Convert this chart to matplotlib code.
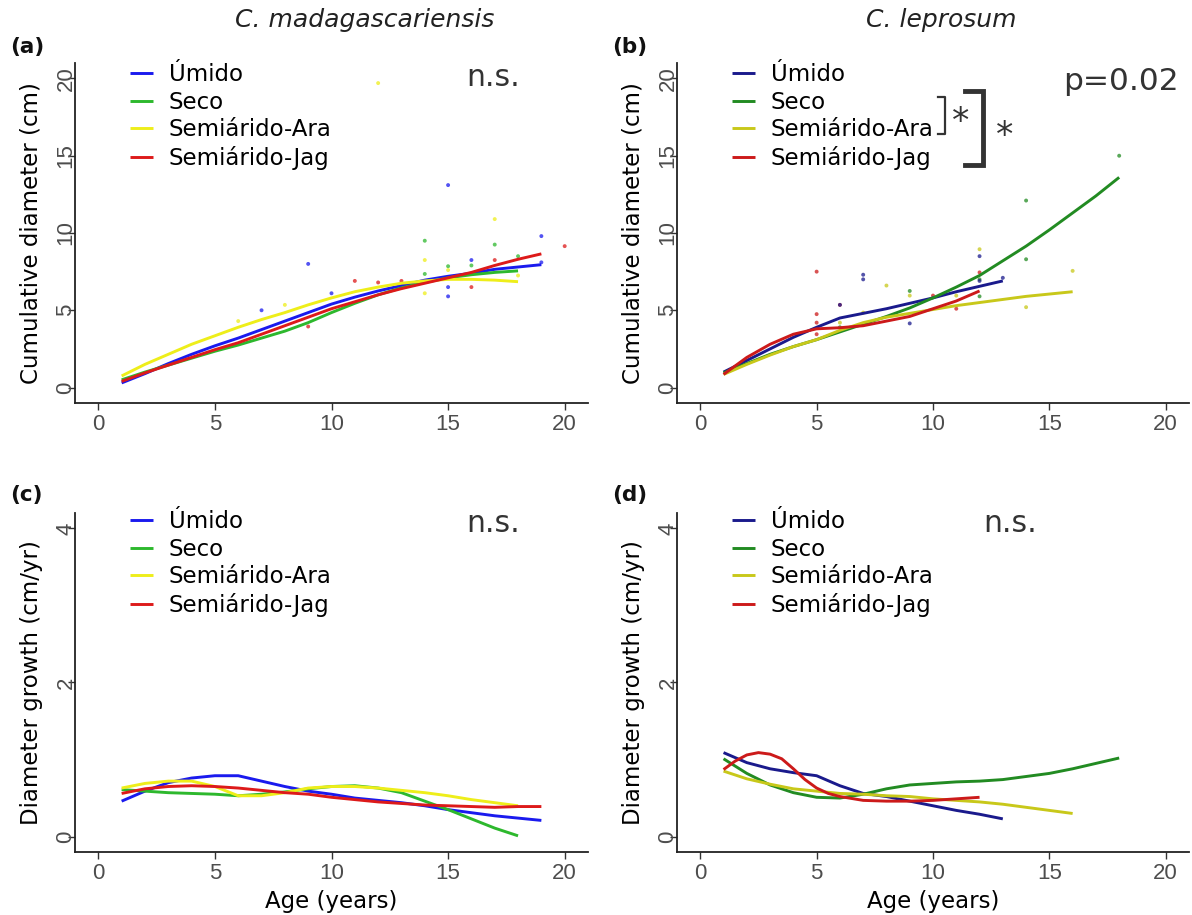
import numpy as np
import matplotlib.pyplot as plt

plt.rcParams['font.family'] = ['DejaVu Sans']

groups = ['Úmido', 'Seco', 'Semiárido-Ara', 'Semiárido-Jag']
colors_mad = ['#1a1aee', '#2db82d', '#eeee1a', '#dd1a1a']
colors_lep = ['#1a1a8c', '#228b22', '#c8c81a', '#cc1a1a']

# C. madagascariensis - fitted cumulative diameter (cm) by age
mad_umido_age = list(range(1, 20))
mad_umido_cum = [0.3, 0.9, 1.55, 2.15, 2.7, 3.2, 3.75, 4.3, 4.85, 5.4, 5.85, 6.25, 6.6, 6.95, 7.2, 7.4, 7.65, 7.8, 7.95]
mad_seco_age = list(range(1, 19))
mad_seco_cum = [0.5, 1.0, 1.45, 1.9, 2.35, 2.75, 3.2, 3.65, 4.2, 4.85, 5.45, 6.0, 6.45, 6.8, 7.1, 7.3, 7.45, 7.55]
mad_ara_age = list(range(1, 19))
mad_ara_cum = [0.75, 1.5, 2.15, 2.8, 3.35, 3.9, 4.4, 4.85, 5.35, 5.8, 6.2, 6.5, 6.75, 6.9, 7.0, 7.0, 6.95, 6.85]
mad_jag_age = list(range(1, 20))
mad_jag_cum = [0.4, 0.95, 1.45, 1.95, 2.45, 2.9, 3.45, 4.0, 4.55, 5.1, 5.55, 6.0, 6.4, 6.75, 7.1, 7.45, 7.9, 8.3, 8.65]

# C. madagascariensis - fitted diameter growth (cm/yr)
mad_umido_gr = [0.46, 0.59, 0.70, 0.76, 0.79, 0.79, 0.72, 0.65, 0.59, 0.55, 0.50, 0.47, 0.44, 0.40, 0.35, 0.31, 0.27, 0.24, 0.21]
mad_seco_gr = [0.61, 0.59, 0.57, 0.56, 0.55, 0.53, 0.55, 0.58, 0.62, 0.65, 0.66, 0.63, 0.57, 0.46, 0.35, 0.23, 0.11, 0.01]
mad_ara_gr = [0.63, 0.69, 0.72, 0.72, 0.65, 0.53, 0.53, 0.57, 0.63, 0.65, 0.65, 0.63, 0.60, 0.57, 0.53, 0.48, 0.44, 0.40]
mad_jag_gr = [0.56, 0.62, 0.65, 0.66, 0.65, 0.63, 0.60, 0.57, 0.55, 0.51, 0.48, 0.45, 0.43, 0.41, 0.40, 0.39, 0.38, 0.39, 0.39]

# C. madagascariensis - individual trees (age, cm, group)
mad_pt_age = [12, 15, 17, 19, 14, 17, 20, 9, 14, 16, 17, 18, 19, 15, 15, 16, 14, 18, 11, 12, 13, 15, 16, 14, 15, 10, 8, 7, 6, 9]
mad_pt_cum = [19.7, 13.1, 10.9, 9.8, 9.5, 9.25, 9.15, 8.0, 8.25, 8.25, 8.25, 8.5, 8.1, 7.85, 7.6, 7.9, 7.35, 7.25, 6.9, 6.8,
              6.9, 6.5, 6.5, 6.1, 5.9, 6.1, 5.35, 5.0, 4.3, 3.95]
mad_pt_grp = [2, 0, 2, 0, 1, 1, 3, 0, 2, 0, 3, 1, 0, 1, 2, 1, 1, 2, 3, 3, 3, 0, 3, 2, 0, 0, 2, 0, 2, 3]

# C. leprosum - fitted cumulative diameter (cm) by age
lep_umido_age = list(range(1, 14))
lep_umido_cum = [1.0, 1.75, 2.5, 3.25, 3.9, 4.5, 4.8, 5.1, 5.45, 5.8, 6.2, 6.55, 6.9]
lep_seco_age = list(range(1, 19))
lep_seco_cum = [0.95, 1.55, 2.15, 2.65, 3.1, 3.6, 4.1, 4.6, 5.15, 5.8, 6.5, 7.25, 8.2, 9.15, 10.2, 11.3, 12.4, 13.6]
lep_ara_age = list(range(1, 17))
lep_ara_cum = [0.85, 1.5, 2.1, 2.65, 3.1, 3.7, 4.2, 4.55, 4.8, 5.05, 5.3, 5.5, 5.7, 5.9, 6.05, 6.2]
lep_jag_age = list(range(1, 13))
lep_jag_cum = [0.85, 1.95, 2.8, 3.45, 3.8, 3.87, 4.0, 4.3, 4.6, 5.1, 5.6, 6.25]

# C. leprosum - fitted diameter growth (cm/yr)
lep_umido_gr = [1.09, 0.96, 0.88, 0.83, 0.79, 0.66, 0.56, 0.52, 0.46, 0.40, 0.34, 0.29, 0.23]
lep_seco_gr = [1.01, 0.82, 0.67, 0.57, 0.51, 0.50, 0.55, 0.62, 0.67, 0.69, 0.71, 0.72, 0.74, 0.78, 0.82, 0.88, 0.95, 1.02]
lep_ara_gr = [0.85, 0.75, 0.68, 0.62, 0.59, 0.56, 0.55, 0.53, 0.52, 0.49, 0.47, 0.45, 0.42, 0.38, 0.34, 0.30]
lep_jag_gr_age = [1, 1.5, 2, 2.5, 3, 3.5, 4, 4.5, 5, 5.5, 6, 7, 8, 9, 10, 11, 12]
lep_jag_gr = [0.87, 0.98, 1.06, 1.09, 1.07, 1.01, 0.88, 0.74, 0.63, 0.56, 0.52, 0.47, 0.46, 0.46, 0.47, 0.49, 0.51]

# C. leprosum - individual trees (age, cm, group)
lep_pt_age = [18, 14, 14, 12, 12, 16, 5, 7, 7, 12, 12, 12, 13, 8, 9, 9, 10, 12, 11, 11, 14, 6, 6, 7, 5, 5, 6, 6, 9, 5]
lep_pt_cum = [15.0, 12.1, 8.3, 8.95, 8.5, 7.55, 7.5, 7.3, 7.0, 7.45, 7.0, 6.9, 7.1, 6.6, 6.25, 5.95, 5.95, 5.9, 5.95, 5.1,
              5.2, 5.35, 5.35, 4.85, 4.75, 4.2, 4.2, 3.9, 4.15, 3.45]
lep_pt_grp = [1, 1, 1, 2, 0, 2, 3, 0, 0, 3, 1, 0, 0, 2, 1, 2, 3, 1, 2, 3, 2, 3, 0, 2, 3, 3, 2, 1, 0, 3]

mad_cum = [(mad_umido_age, mad_umido_cum), (mad_seco_age, mad_seco_cum),
           (mad_ara_age, mad_ara_cum), (mad_jag_age, mad_jag_cum)]
mad_gr = [(mad_umido_age, mad_umido_gr), (mad_seco_age, mad_seco_gr),
          (mad_ara_age, mad_ara_gr), (mad_jag_age, mad_jag_gr)]
lep_cum = [(lep_umido_age, lep_umido_cum), (lep_seco_age, lep_seco_cum),
           (lep_ara_age, lep_ara_cum), (lep_jag_age, lep_jag_cum)]
lep_gr = [(lep_umido_age, lep_umido_gr), (lep_seco_age, lep_seco_gr),
          (lep_ara_age, lep_ara_gr), (lep_jag_gr_age, lep_jag_gr)]

W, H = 1192, 915
fig = plt.figure(figsize=(W / 100, H / 100), dpi=100)


def px_axes(left, top, right, bottom):
    return fig.add_axes([left / W, 1 - bottom / H, (right - left) / W, (bottom - top) / H])


ax_a = px_axes(75, 63, 588, 403)
ax_b = px_axes(677, 63, 1189, 403)
ax_c = px_axes(75, 513, 588, 852)
ax_d = px_axes(677, 513, 1189, 852)


def style(ax, ymax, yticks, ylabel, xlabel=None):
    ax.set_xlim(-1, 21)
    ax.set_ylim(-ymax * 0.05, ymax * 1.05)
    ax.set_xticks([0, 5, 10, 15, 20])
    ax.set_yticks(yticks)
    for s in ['top', 'right']:
        ax.spines[s].set_visible(False)
    for s in ['left', 'bottom']:
        ax.spines[s].set_linewidth(1.3)
        ax.spines[s].set_color('#222222')
    ax.tick_params(length=5, width=1.0, color='#333333', labelcolor='#4d4d4d',
                   labelsize=16, pad=3)
    ax.tick_params(axis='y', labelrotation=90, pad=-6)
    for lab in ax.get_xticklabels() + ax.get_yticklabels():
        lab.set_family('Liberation Sans')
    for lab in ax.get_yticklabels():
        lab.set_va('center')
    ax.set_ylabel(ylabel, fontsize=16.5, labelpad=9)
    if xlabel:
        ax.set_xlabel(xlabel, fontsize=16.5, labelpad=4)


def draw_fits(ax, fits, colors):
    for (x, y), c, g in zip(fits, colors, groups):
        ax.plot(x, y, color=c, lw=2.1, label=g, solid_capstyle='butt')


def draw_points(ax, ages, vals, grps, colors):
    cols = [colors[g] for g in grps]
    ax.scatter(ages, vals, s=8, c=cols, alpha=0.75, linewidths=0, zorder=1)


def legend(ax, ytop):
    ax.legend(loc='upper left', bbox_to_anchor=(0.107, ytop), frameon=False,
              fontsize=16.5, handlelength=1.0, handletextpad=0.7,
              labelspacing=0.2, borderpad=0, borderaxespad=0)


draw_points(ax_a, mad_pt_age, mad_pt_cum, mad_pt_grp, colors_mad)
draw_fits(ax_a, mad_cum, colors_mad)
style(ax_a, 20, [0, 5, 10, 15, 20], 'Cumulative diameter (cm)')
legend(ax_a, 1.0)
ax_a.text(0.815, 0.956, 'n.s.', transform=ax_a.transAxes, fontsize=21.5,
          color='#333333', ha='center', va='center')

draw_points(ax_b, lep_pt_age, lep_pt_cum, lep_pt_grp, colors_lep)
draw_fits(ax_b, lep_cum, colors_lep)
style(ax_b, 20, [0, 5, 10, 15, 20], 'Cumulative diameter (cm)')
legend(ax_b, 1.0)
ax_b.text(0.868, 0.945, 'p=0.02', transform=ax_b.transAxes, fontsize=22.5,
          color='#333333', ha='center', va='center')

# significance brackets between groups
ax_b.plot([0.510, 0.523, 0.523, 0.510], [0.901, 0.901, 0.791, 0.791],
          transform=ax_b.transAxes, color='#333333', lw=1.6, clip_on=False)
ax_b.text(0.554, 0.826, '*', transform=ax_b.transAxes, fontsize=25,
          color='#333333', ha='center', va='center')
ax_b.plot([0.5625, 0.598, 0.598, 0.5625], [0.9185, 0.9185, 0.70, 0.70],
          transform=ax_b.transAxes, color='#333333', lw=3.5, clip_on=False,
          solid_joinstyle='miter')
ax_b.text(0.639, 0.785, '*', transform=ax_b.transAxes, fontsize=25,
          color='#333333', ha='center', va='center')

draw_fits(ax_c, mad_gr, colors_mad)
style(ax_c, 4, [0, 2, 4], 'Diameter growth (cm/yr)', 'Age (years)')
legend(ax_c, 1.008)
ax_c.text(0.815, 0.97, 'n.s.', transform=ax_c.transAxes, fontsize=21.5,
          color='#333333', ha='center', va='center')

draw_fits(ax_d, lep_gr, colors_lep)
style(ax_d, 4, [0, 2, 4], 'Diameter growth (cm/yr)', 'Age (years)')
legend(ax_d, 1.008)
ax_d.text(0.65, 0.97, 'n.s.', transform=ax_d.transAxes, fontsize=21.5,
          color='#333333', ha='center', va='center')

fig.text(365 / W, 1 - 20 / H, 'C. madagascariensis', fontsize=18, style='italic',
         ha='center', va='center', color='#222222')
fig.text(941 / W, 1 - 20 / H, 'C. leprosum', fontsize=18, style='italic',
         ha='center', va='center', color='#222222')
for lab, x, y in [('(a)', 10, 47), ('(b)', 612, 47), ('(c)', 10, 495), ('(d)', 612, 495)]:
    fig.text(x / W, 1 - y / H, lab, fontsize=15.5, fontweight='bold',
             ha='left', va='center', color='#111111')

fig.savefig('out.png', dpi=100)
